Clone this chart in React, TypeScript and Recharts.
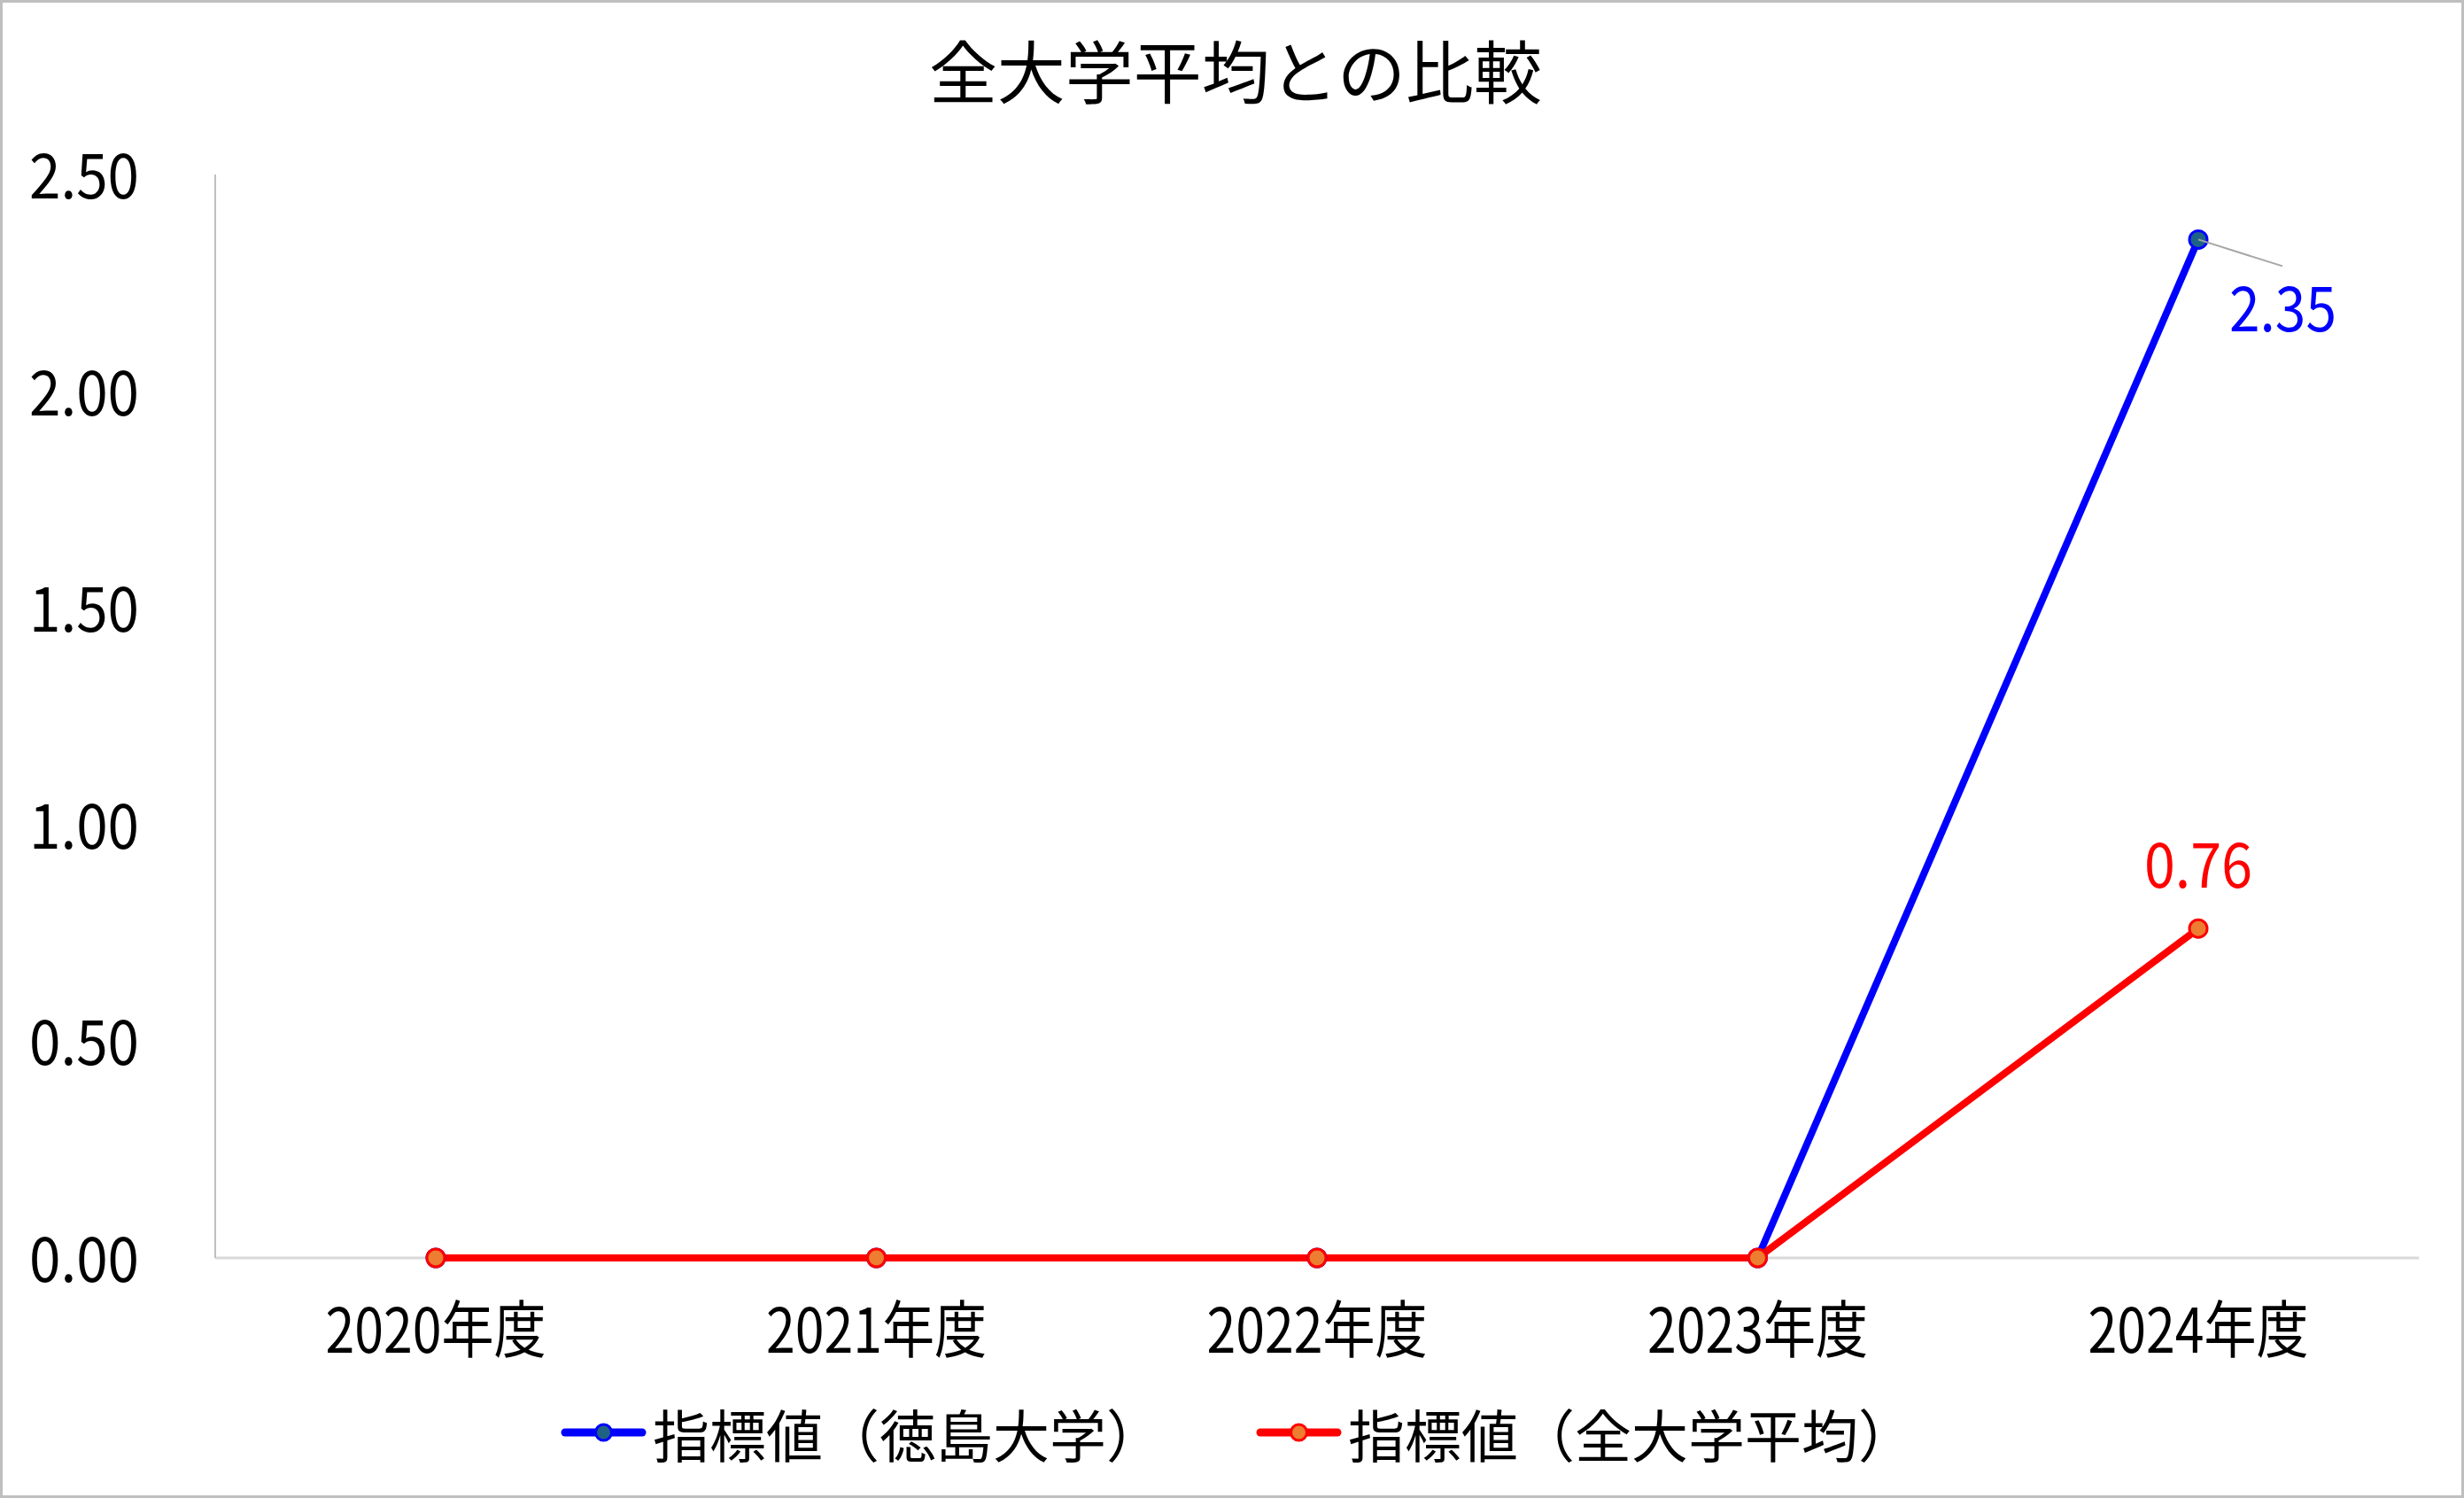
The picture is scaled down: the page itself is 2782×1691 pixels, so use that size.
import React from "react";
import { LineChart, Line, XAxis, YAxis, Legend } from "recharts";

const categories = ["2020年度", "2021年度", "2022年度", "2023年度", "2024年度"];
const tokushimaValues = [0, 0, 0, 0, 2.35];
const allAverageValues = [0, 0, 0, 0, 0.76];
const yTicks = [0, 0.5, 1, 1.5, 2, 2.5];

const SERIES = [
  { key: "tokushima", name: "指標値（徳島大学）", line: "#0000FF", dotFill: "#1E6384", dotStroke: "#0000FF" },
  { key: "average", name: "指標値（全大学平均）", line: "#FF0000", dotFill: "#ED7D31", dotStroke: "#FF0000" },
];

const FONT = "'Noto Sans CJK JP', 'Noto Sans', sans-serif";
const W = 2782;
const H = 1691;

const chartData = categories.map((name, i) => ({
  name,
  tokushima: tokushimaValues[i],
  average: allAverageValues[i],
}));

function XTick({ x, y, payload }: any) {
  return (
    <text x={x} y={y + 107} textAnchor="middle" fontFamily={FONT} fontSize={70} fill="#000"
      textLength={249} lengthAdjust="spacingAndGlyphs">
      {payload.value}
    </text>
  );
}

function YTick({ x, y, payload }: any) {
  return (
    <text x={x} y={y + 27} textAnchor="end" fontFamily={FONT} fontSize={70} fill="#000"
      textLength={124} lengthAdjust="spacingAndGlyphs">
      {Number(payload.value).toFixed(2)}
    </text>
  );
}

function TokushimaLabel(props: any) {
  const { x, y, index, value } = props;
  if (index !== categories.length - 1 || value == null) return null;
  return (
    <g>
      <line x1={x} y1={y} x2={x + 95} y2={y + 30} stroke="#a6a6a6" strokeWidth={2} />
      <text x={x + 35} y={y + 104} fontFamily={FONT} fontSize={70} fill="#0000FF"
        textLength={121} lengthAdjust="spacingAndGlyphs">
        {Number(value).toFixed(2)}
      </text>
    </g>
  );
}

function AverageLabel(props: any) {
  const { x, y, index, value } = props;
  if (index !== categories.length - 1 || value == null) return null;
  return (
    <text x={x} y={y - 46} textAnchor="middle" fontFamily={FONT} fontSize={70} fill="#FF0000"
      textLength={122} lengthAdjust="spacingAndGlyphs">
      {Number(value).toFixed(2)}
    </text>
  );
}

function LegendContent() {
  return (
    <div style={{ display: "flex", alignItems: "center", height: 80, paddingLeft: 633, fontFamily: FONT }}>
      {SERIES.map((s, i) => (
        <div key={s.key} style={{ display: "flex", alignItems: "center", marginLeft: i === 0 ? 0 : 105 }}>
          <svg width={97} height={30}>
            <line x1={5} x2={92} y1={15} y2={15} stroke={s.line} strokeWidth={9} strokeLinecap="round" />
            <circle cx={48.5} cy={15} r={9} fill={s.dotFill} stroke={s.dotStroke} strokeWidth={3} />
          </svg>
          <span style={{ marginLeft: 7, fontSize: 64, color: "#000", lineHeight: "80px" }}>{s.name}</span>
        </div>
      ))}
    </div>
  );
}

export default function App() {
  return (
    <div style={{ position: "absolute", left: 0, top: 0, width: W, height: H, background: "#fff" }}>
      <LineChart width={W} height={H} data={chartData}
        margin={{ top: 197, right: 51, left: 93, bottom: 91 }}>
        <Legend content={<LegendContent />} verticalAlign="bottom"
          wrapperStyle={{ position: "absolute", left: 0, top: 1577, width: W, height: 80 }} />
        <XAxis dataKey="name" tick={<XTick />} tickLine={false} tickSize={0} tickMargin={0}
          height={100} stroke="#d9d9d9" strokeWidth={3} padding={{ left: 249, right: 249 }} />
        <YAxis domain={[0, 2.5]} ticks={yTicks} tick={<YTick />} tickLine={false} tickSize={0}
          tickMargin={86} width={150} stroke="#bfbfbf" strokeWidth={2} />
        {SERIES.map((s) => (
          <Line key={s.key} dataKey={s.key} name={s.name} type="linear" stroke={s.line} strokeWidth={8}
            dot={{ r: 10, fill: s.dotFill, stroke: s.dotStroke, strokeWidth: 3 }} activeDot={false}
            isAnimationActive={false} zIndex={600}
            label={s.key === "tokushima" ? <TokushimaLabel /> : <AverageLabel />} />
        ))}
      </LineChart>
      <div style={{ position: "absolute", left: 0, top: 38, width: W, textAlign: "center", fontFamily: FONT,
        fontSize: 77, lineHeight: "80px", color: "#000", paddingLeft: 4 }}>
        全大学平均との比較
      </div>
      <div style={{ position: "absolute", inset: 0, border: "3px solid #bfbfbf", boxSizing: "border-box", pointerEvents: "none" }} />
    </div>
  );
}
